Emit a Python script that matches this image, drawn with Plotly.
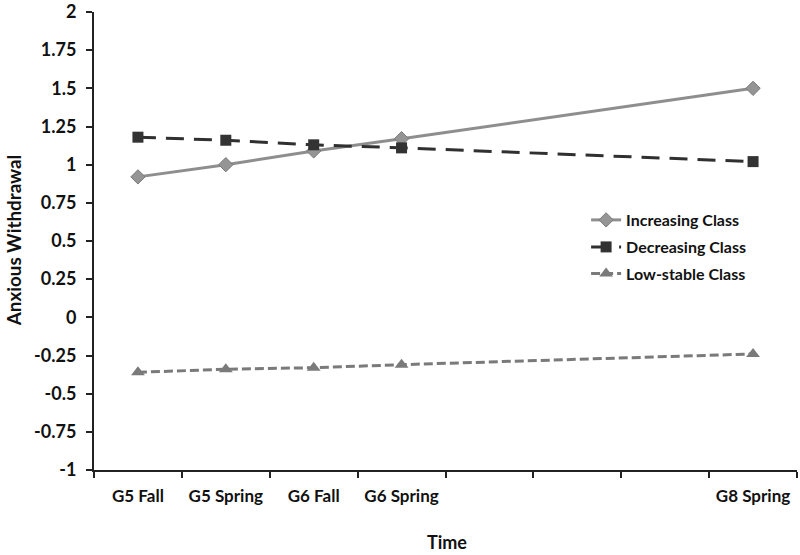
import plotly.graph_objects as go

categories = ["G5 Fall", "G5 Spring", "G6 Fall", "G6 Spring", " ", "  ", "   ", "G8 Spring"]
time_points = ["G5 Fall", "G5 Spring", "G6 Fall", "G6 Spring", "G8 Spring"]
increasing = [0.92, 1.00, 1.09, 1.17, 1.50]
decreasing = [1.18, 1.16, 1.13, 1.11, 1.02]
low_stable = [-0.36, -0.34, -0.33, -0.31, -0.24]
y_ticks = [-1, -0.75, -0.5, -0.25, 0, 0.25, 0.5, 0.75, 1, 1.25, 1.5, 1.75, 2]
y_tick_text = ["-1", "-0.75", "-0.5", "-0.25", "0", "0.25", "0.5", "0.75", "1", "1.25", "1.5", "1.75", "2"]

FONT = "Lato"
TXT = "#111111"

fig = go.Figure()
fig.add_trace(go.Scatter(
    x=time_points, y=increasing, name="Increasing Class", mode="lines+markers",
    line=dict(color="#8e8e8e", width=3, dash="solid"),
    marker=dict(symbol="diamond", size=11, color="#959595", line=dict(color="#7a7a7a", width=1)),
    legend="legend",
))
fig.add_trace(go.Scatter(
    x=time_points, y=decreasing, name="Decreasing Class", mode="lines+markers",
    line=dict(color="#303030", width=3, dash="18px,10px"),
    marker=dict(symbol="square", size=11, color="#333333"),
    legend="legend2",
))
fig.add_trace(go.Scatter(
    x=time_points, y=low_stable, name="Low-stable Class", mode="lines+markers",
    line=dict(color="#7a7a7a", width=3, dash="9px,4px"),
    marker=dict(symbol="triangle-up", size=12, color="#7a7a7a"),
    legend="legend3",
))

def leg(y):
    return dict(
        x=0.70, y=y, xanchor="left", yanchor="top",
        font=dict(family=FONT, size=16, color=TXT, weight="bold"),
        bgcolor="rgba(0,0,0,0)", itemwidth=30,
    )

fig.update_layout(
    width=800, height=555,
    margin=dict(l=94, r=3, t=12, b=85),
    paper_bgcolor="white", plot_bgcolor="white",
    font=dict(family=FONT, size=17, color=TXT),
    legend=leg(0.583), legend2=leg(0.524), legend3=leg(0.466),
    showlegend=True,
    annotations=[
        dict(text="Time", xref="paper", yref="paper", x=0.502, y=-0.157,
             xanchor="center", yanchor="middle", showarrow=False,
             font=dict(family=FONT, size=18, color=TXT, weight="bold")),
        dict(text="Anxious Withdrawal", xref="paper", yref="paper", x=-0.115, y=0.5,
             xanchor="center", yanchor="middle", showarrow=False, textangle=-90,
             font=dict(family=FONT, size=18.8, color=TXT, weight="bold")),
    ],
)
fig.update_xaxes(
    type="category", categoryorder="array", categoryarray=categories,
    range=[-0.5, 7.5], tickson="boundaries", automargin=False,
    showline=True, linecolor="#222222", linewidth=2,
    ticks="outside", ticklen=6, tickcolor="#222222", tickwidth=1.5,
    ticklabelstandoff=10,
    showgrid=False, zeroline=False,
    tickfont=dict(family=FONT, size=17, weight="bold", color=TXT),
)
fig.update_yaxes(
    range=[-1, 2], tickvals=y_ticks, ticktext=y_tick_text, automargin=False,
    showline=True, linecolor="#222222", linewidth=2,
    ticks="outside", ticklen=6, tickcolor="#222222", tickwidth=1.5,
    ticklabelstandoff=6, ticklabeloverflow="allow",
    showgrid=False, zeroline=False,
    tickfont=dict(family=FONT, size=18, weight="bold", color=TXT),
)

# remove the page's default 8px body margin so the figure fills the window
fig.write_html("out.html", config={"displayModeBar": False},
               post_script="document.body.style.margin='0';")
